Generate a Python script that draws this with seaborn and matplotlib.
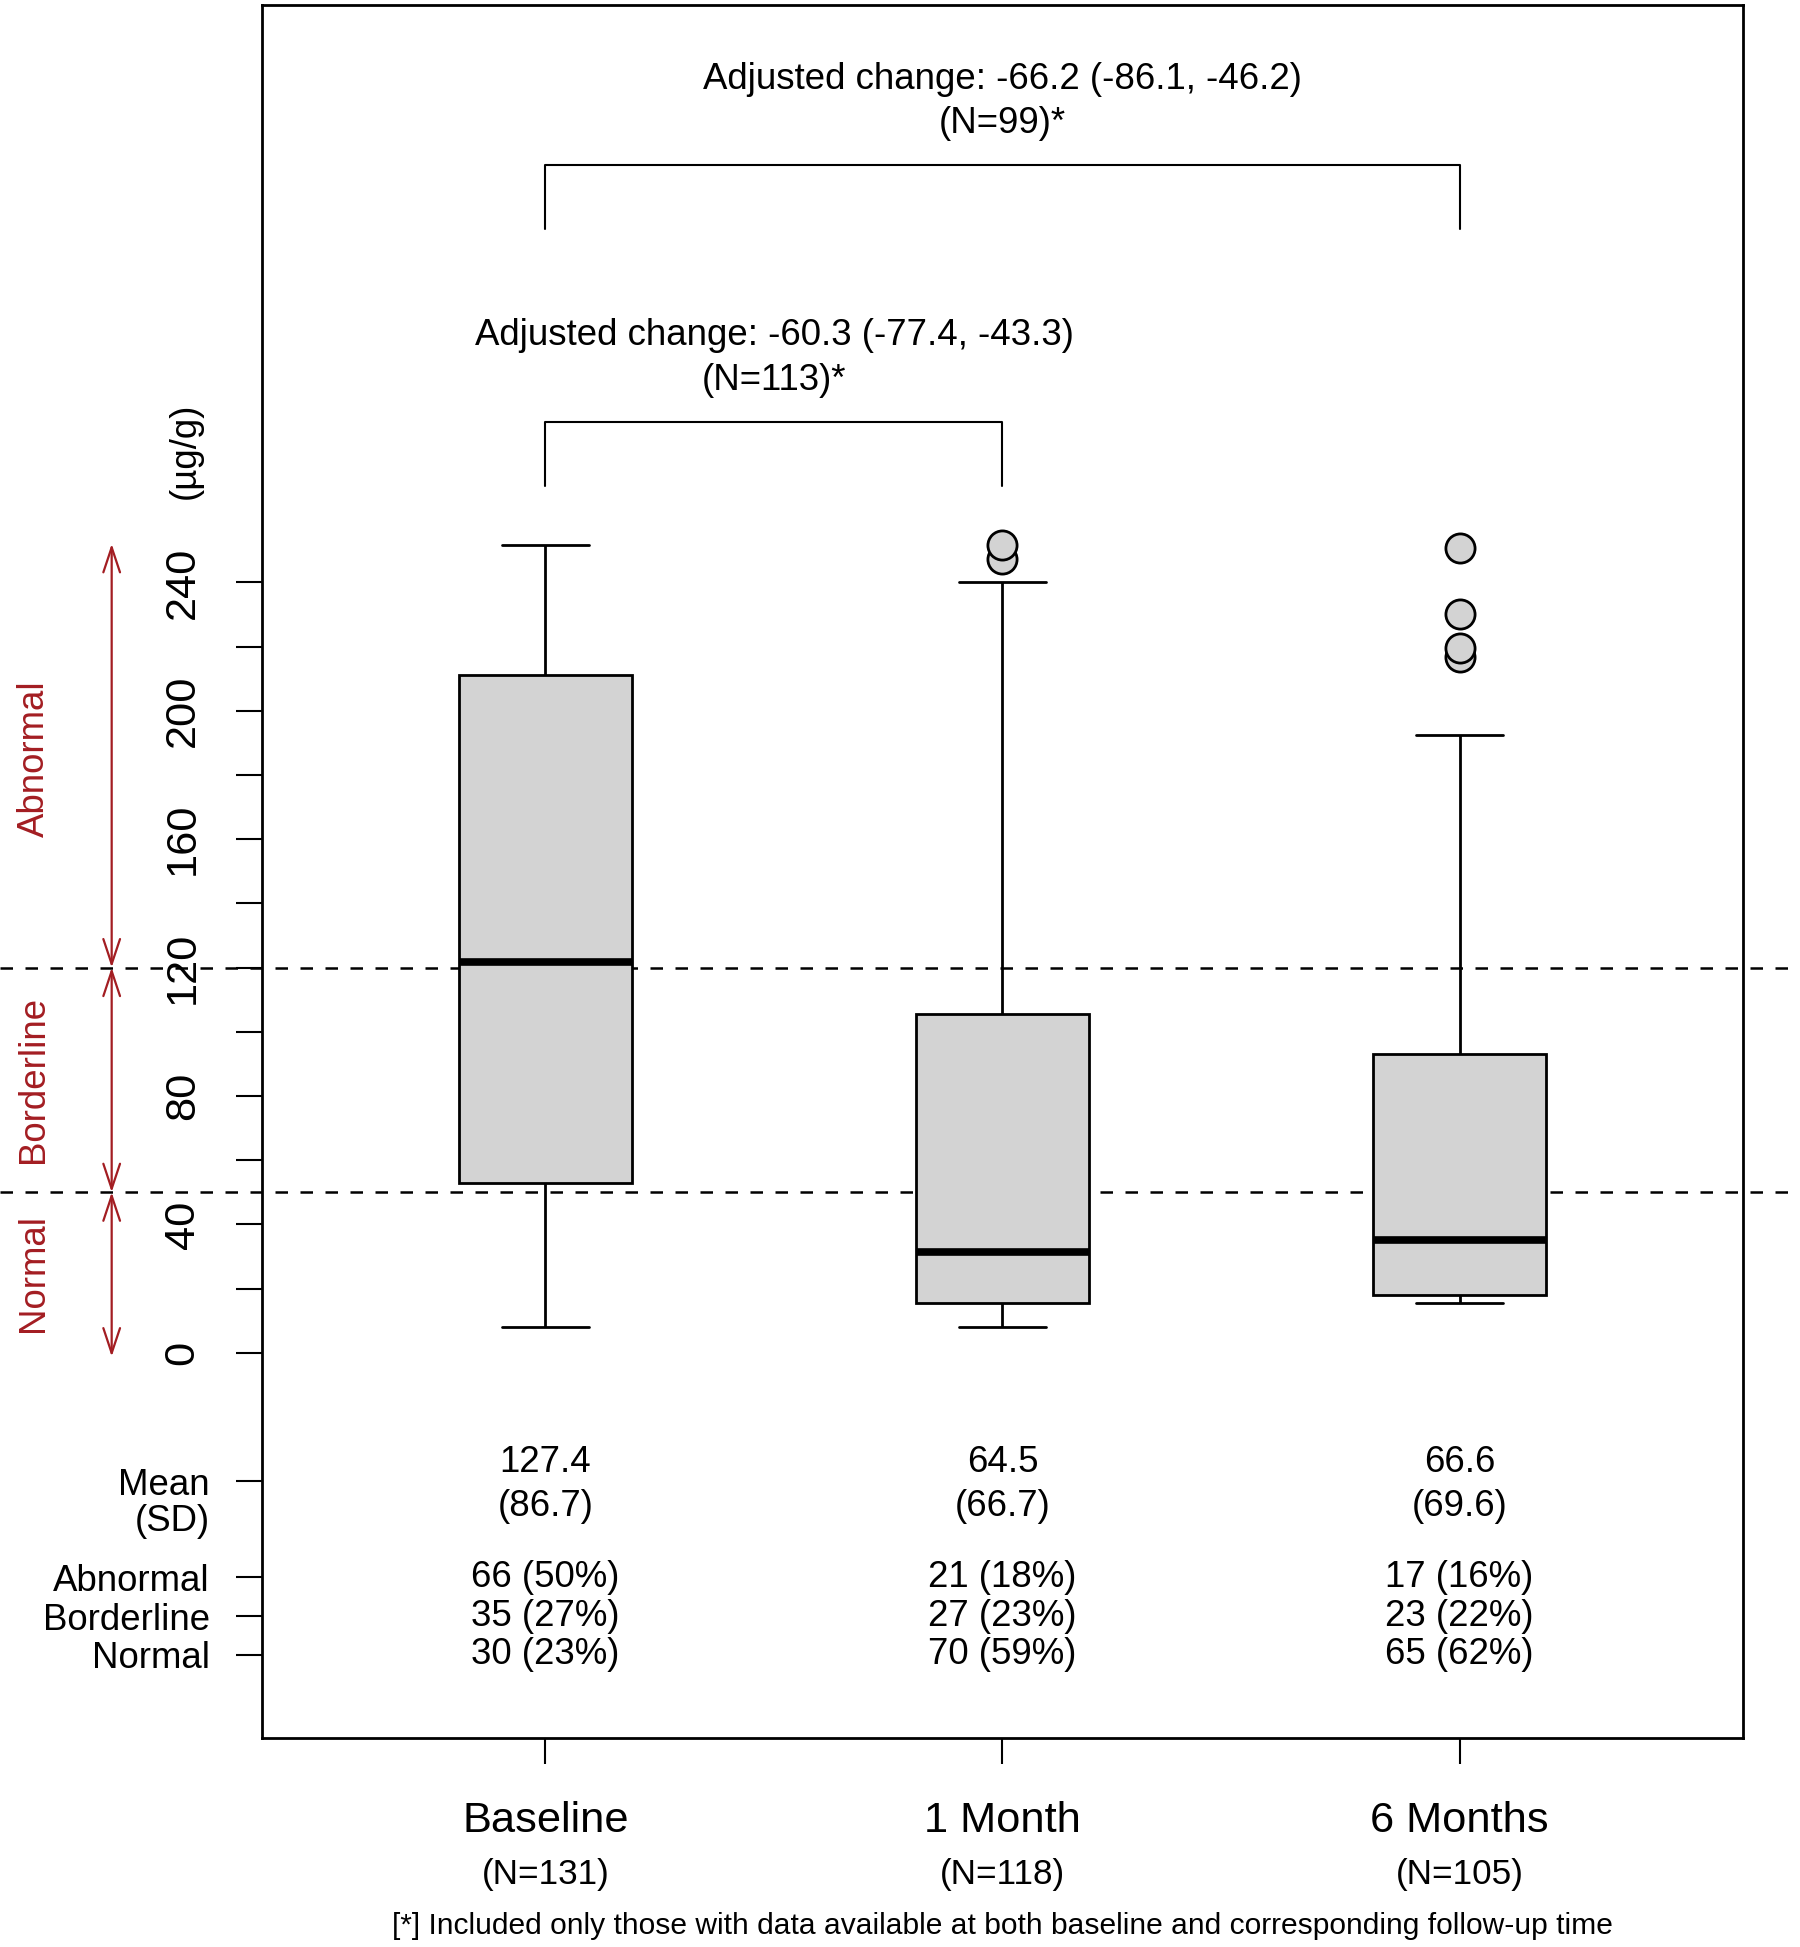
import numpy as np
import pandas as pd
import matplotlib
matplotlib.use("Agg")
from matplotlib import pyplot as plt
from matplotlib import transforms
from matplotlib.patches import FancyArrowPatch
import seaborn as sns

# values
groups = ["Baseline", "1 Month", "6 Months"]
n_obs = [131, 118, 105]
whisk_lo = [7.9, 7.9, 15.6]
q1 = [52.9, 15.6, 17.9]
median = [121.7, 31.5, 35.0]
q3 = [211.1, 105.5, 93.1]
whisk_hi = [251.5, 240.0, 192.4]
outliers = [[], [247.4, 251.5], [216.6, 219.7, 230.0, 250.6]]

means = ["127.4", "64.5", "66.6"]
sds = ["(86.7)", "(66.7)", "(69.6)"]
abnormal = ["66 (50%)", "21 (18%)", "17 (16%)"]
borderline = ["35 (27%)", "27 (23%)", "23 (22%)"]
normal = ["30 (23%)", "70 (59%)", "65 (62%)"]

cutoffs = [50, 120]
zones = ["Normal", "Borderline", "Abnormal"]
zone_bounds = [(0, 50), (50, 120), (120, 250)]

change_1m = ["Adjusted change: -60.3 (-77.4, -43.3)", "(N=113)*"]
change_6m = ["Adjusted change: -66.2 (-86.1, -46.2)", "(N=99)*"]
footnote = "[*] Included only those with data available at both baseline and corresponding follow-up time"

RED = "#A31D22"
GREY = "#D3D3D3"
FS = 26.4      # normal text size
FS_BIG = 31.2  # axis numbers and group names


def box_sample(lo, a, m, b, hi, out):
    # small sample whose quartiles / whiskers / fliers give the read box stats
    k = len(out) + 1
    return [lo] + [a] * (k - 1) + [a] + [m] * k + [b] * k + [hi] + sorted(out)


rows = []
for i, g in enumerate(groups):
    for v in box_sample(whisk_lo[i], q1[i], median[i], q3[i], whisk_hi[i], outliers[i]):
        rows.append((g, v))
df = pd.DataFrame(rows, columns=["Time", "Value"])

sns.set_style("ticks")
plt.rcParams["font.family"] = ["Liberation Sans", "DejaVu Sans"]
for key in ["text.color", "axes.labelcolor", "xtick.color", "ytick.color", "axes.edgecolor"]:
    plt.rcParams[key] = "black"

fig = plt.figure(figsize=(18, 19.47), dpi=100)
ax = fig.add_axes([262 / 1800, 1 - 1738 / 1947, (1743 - 262) / 1800, 1733.5 / 1947])

# dashed cut-off lines run across the whole figure
across = transforms.blended_transform_factory(fig.transFigure, ax.transData)
for c in cutoffs:
    ax.plot([0, 1], [c, c], transform=across, color="black", lw=1.8,
            dashes=(5, 5), clip_on=False, zorder=1)

sns.boxplot(data=df, x="Time", y="Value", order=groups, ax=ax, width=0.38,
            color=GREY, saturation=1, linecolor="black", linewidth=2,
            whis=1.5, fliersize=21,
            medianprops=dict(linewidth=5.5, color="black"),
            flierprops=dict(marker="o", markerfacecolor=GREY,
                            markeredgecolor="black", markeredgewidth=2))

ax.set_xlim(-0.62, 2.62)
ax.set_ylim(-120, 420)
ax.set_xlabel("")
ax.set_ylabel("")
for s in ax.spines.values():
    s.set_visible(True)
    s.set_linewidth(2)
    s.set_color("black")

# y axis: numeric ticks (major) and row-label ticks (minor)
major = list(range(0, 241, 20))
ax.set_yticks(major, labels=[str(t) if t % 40 == 0 else "" for t in major])
ax.set_yticks([-94, -82, -70, -40], labels=["Normal", "Borderline", "Abnormal", "Mean"], minor=True)
ax.tick_params(axis="y", which="major", length=18.7, width=1.5, pad=24, labelsize=FS_BIG,
               labelrotation=90)
ax.tick_params(axis="y", which="minor", length=18.7, width=1.5, pad=19, labelsize=FS)
for lab in ax.get_yticklabels():
    lab.set_va("center")
ax.set_xticks([0, 1, 2], labels=["", "", ""])
ax.tick_params(axis="x", length=18.7, width=1.5)

ytr = ax.get_yaxis_transform()
ax.text(-0.0352, -52.6, "(SD)", transform=ytr, ha="right", va="center", fontsize=FS)
ax.text(-0.052, 281, "(µg/g)", transform=ytr, rotation=90, ha="center", va="center",
        fontsize=FS)

# reference ranges on the left margin
for name, (y0, y1) in zip(zones, zone_bounds):
    lo = y0 - 1.2 if y0 == 0 else y0
    hi = y1 + 2 if y1 == 250 else y1
    arr = FancyArrowPatch((-0.1015, lo), (-0.1015, hi), transform=ytr,
                          arrowstyle="<->,head_length=3,head_width=1", mutation_scale=6,
                          color=RED, lw=1.6, shrinkA=0, shrinkB=0, clip_on=False)
    ax.add_patch(arr)
    ax.text(-0.154, (y0 + y1) / 2, name, transform=ytr, rotation=90, ha="center",
            va="center", color=RED, fontsize=FS)

# summary table inside the plot
for i in range(len(groups)):
    ax.text(i, -34.3, means[i], ha="center", va="center", fontsize=FS)
    ax.text(i, -47.8, sds[i], ha="center", va="center", fontsize=FS)
    ax.text(i, -70, abnormal[i], ha="center", va="center", fontsize=FS)
    ax.text(i, -82, borderline[i], ha="center", va="center", fontsize=FS)
    ax.text(i, -94, normal[i], ha="center", va="center", fontsize=FS)

# comparison brackets
ax.plot([0, 0, 1, 1], [270, 290, 290, 270], color="black", lw=1.5)
ax.text(0.5, 317, change_1m[0], ha="center", va="center", fontsize=FS)
ax.text(0.5, 303, change_1m[1], ha="center", va="center", fontsize=FS)
ax.plot([0, 0, 2, 2], [350, 370, 370, 350], color="black", lw=1.5)
ax.text(1, 396.5, change_6m[0], ha="center", va="center", fontsize=FS)
ax.text(1, 383, change_6m[1], ha="center", va="center", fontsize=FS)

# category labels under the axis
xfig = transforms.blended_transform_factory(ax.transData, fig.transFigure)
for i, g in enumerate(groups):
    fig.text(i, 0.0592, g, transform=xfig, ha="center", va="baseline", fontsize=FS_BIG)
    fig.text(i, 0.0324, f"(N={n_obs[i]})", transform=xfig, ha="center", va="baseline",
             fontsize=25.3)
fig.text(1, 0.0065, footnote, transform=xfig, ha="center", va="baseline", fontsize=21.6)

fig.savefig("out.png", dpi=100)
